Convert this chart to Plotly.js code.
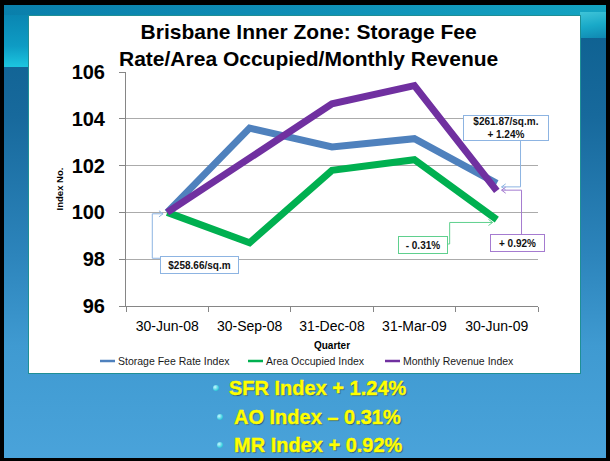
<!DOCTYPE html>
<html><head><meta charset="utf-8">
<script src="https://cdn.plot.ly/plotly-3.0.1.min.js"></script>
<style>
html,body{margin:0;padding:0;background:#000;}
#slide{position:relative;width:610px;height:461px;overflow:hidden;
 background:linear-gradient(180deg,#0c5f8e 0%,#17699c 25%,#2c84bb 55%,#3f9ad1 75%,#4aa3da 100%);
 font-family:"Liberation Sans",Arial,sans-serif;}
#topstrip{position:absolute;left:0;top:0;width:610px;height:16px;background:linear-gradient(90deg,#0a7fab 0%,#0f8fb6 50%,#14a4c2 100%);}
#leftstrip{position:absolute;left:0;top:15px;width:30px;height:52px;background:linear-gradient(180deg,#0a86b2 0%,#0e9cc4 60%,#1cc6e0 100%);}
#rightstrip{position:absolute;left:580px;top:12px;width:30px;height:26px;background:linear-gradient(170deg,#3fc4d8 0%,#19a9c8 50%,#0f86b0 100%);}
#box{position:absolute;left:28px;top:15px;width:553px;height:359px;box-sizing:border-box;background:#fff;border:1px solid #1f8f95;}
#chart{position:absolute;left:0;top:0;width:610px;height:461px;}
#frame{position:absolute;left:0;top:0;width:610px;height:461px;box-sizing:border-box;border:4px solid #000;border-top-width:5px;border-bottom-width:3px;pointer-events:none;}
.bul{position:absolute;height:24px;line-height:24px;font-size:20px;font-weight:bold;color:#ffff00;white-space:nowrap;text-shadow:1px 1px 1px rgba(0,0,0,0.45);-webkit-text-stroke:0.4px #ffff00;}
.dot{position:absolute;width:6px;height:6px;border-radius:50%;background:radial-gradient(circle at 35% 35%,#c8f6ff 0%,#3fd0e0 60%,#1a9cb8 100%);}
</style>
</head><body>
<div id="slide">
 <div id="topstrip"></div>
 <div id="leftstrip"></div>
 <div id="rightstrip"></div>
 <div id="box"></div>
 <div id="chart"></div>
 <div class="dot" style="left:213px;top:385px;"></div>
 <div class="bul" style="left:229px;top:376px;">SFR Index + 1.24%</div>
 <div class="dot" style="left:217px;top:414px;"></div>
 <div class="bul" style="left:234px;top:405px;">AO Index – 0.31%</div>
 <div class="dot" style="left:217px;top:442px;"></div>
 <div class="bul" style="left:234px;top:433px;">MR Index + 0.92%</div>
 <div id="frame"></div>
</div>
<script>
// ---- data ----
var categories = ['30-Jun-08','30-Sep-08','31-Dec-08','31-Mar-09','30-Jun-09'];
var sfrIndex = [100, 103.6, 102.8, 103.15, 101.24];
var aoIndex  = [100, 98.7, 101.8, 102.25, 99.69];
var mrIndex  = [100, 102.3, 104.64, 105.42, 100.92];
var seriesNames = ['Storage Fee Rate Index','Area Occupied Index','Monthly Revenue Index'];
var yTicks = [96, 98, 100, 102, 104, 106];
var calloutTexts = ['$258.66/sq.m', '- 0.31%', '$261.87/sq.m.<br>+ 1.24%', '+ 0.92%'];

var FONT = '"Liberation Sans", Arial, sans-serif';
var colors = ['#4F81BD', '#00B050', '#7030A0'];
var seriesData = [sfrIndex, aoIndex, mrIndex];

var traces = [];
seriesData.forEach(function (vals, i) {
  traces.push({
    x: categories, y: vals, type: 'scatter', mode: 'lines', name: seriesNames[i],
    line: {color: colors[i], width: 7}, showlegend: false, hoverinfo: 'skip'
  });
});

// plot box in pixels (from margins) -> paper coords for legend placement
var PL = 126, PR = 538, PT = 72, PB = 306;
function px2paperX(px) { return (px - PL) / (PR - PL); }
function px2paperY(py) { return (PB - py) / (PB - PT); }

// elbow connectors with open arrowheads (data coordinates: x = category index)
function elbow(pts, dir) {
  var d = 'M' + pts.map(function (p) { return p[0] + ',' + p[1]; }).join(' L');
  var tip = pts[pts.length - 1];
  var dx = 0.05 * dir, dy = 0.13;
  d += ' M' + (tip[0] - dx) + ',' + (tip[1] + dy) + ' L' + tip[0] + ',' + tip[1] +
       ' L' + (tip[0] - dx) + ',' + (tip[1] - dy);
  return d;
}
var cBlue = '#8DB4E2', cGreen = '#5FD08E', cPurple = '#A57BD0';
var shapes = [
  {type: 'path', xref: 'x', yref: 'y', line: {color: cBlue, width: 1},
   path: elbow([[-0.084, 98.04], [-0.181, 98.04], [-0.181, 99.94], [-0.05, 99.94]], 1)},
  {type: 'path', xref: 'x', yref: 'y', line: {color: cGreen, width: 1},
   path: elbow([[3.16, 98.65], [3.428, 98.65], [3.428, 99.57], [3.949, 99.57]], 1)},
  {type: 'path', xref: 'x', yref: 'y', line: {color: cBlue, width: 1},
   path: elbow([[4.288, 103.05], [4.288, 101.09], [4.058, 101.09]], -1)},
  {type: 'path', xref: 'x', yref: 'y', line: {color: cPurple, width: 1},
   path: elbow([[4.30, 99.07], [4.30, 100.95], [4.058, 100.95]], -1)}
];

function box(x, y, txt, col, w, h) {
  return {x: x, y: y, xref: 'x', yref: 'y', text: txt, showarrow: false,
    xanchor: 'center', yanchor: 'middle', align: 'center',
    bgcolor: '#ffffff', bordercolor: col, borderwidth: 1, borderpad: 1,
    width: w, height: h,
    font: {family: FONT, size: 10, color: '#111', weight: 'bold'}};
}
var annotations = [
  box(0.395, 97.76, calloutTexts[0], cBlue, 75, 14),
  box(3.10, 98.60, calloutTexts[1], cGreen, 46, 14),
  box(4.106, 103.60, calloutTexts[2], cBlue, 82, 22),
  box(4.246, 98.68, calloutTexts[3], cPurple, 51, 14)
];

// legend (short line samples like the original)
var legendLineStart = [100, 248, 385];
var legendY = px2paperY(361);
seriesNames.forEach(function (nm, i) {
  shapes.push({type: 'line', xref: 'paper', yref: 'paper',
    x0: px2paperX(legendLineStart[i]), x1: px2paperX(legendLineStart[i] + 15),
    y0: legendY, y1: legendY, line: {color: colors[i], width: 2.5}});
  annotations.push({xref: 'paper', yref: 'paper', x: px2paperX(legendLineStart[i] + 15.5), y: legendY,
    xanchor: 'left', yanchor: 'middle', showarrow: false, text: nm,
    font: {family: FONT, size: 10.5, color: '#1a1a1a'}});
});

var layout = {
  width: 610, height: 461,
  paper_bgcolor: 'rgba(0,0,0,0)', plot_bgcolor: 'rgba(0,0,0,0)',
  margin: {l: PL, r: 610 - PR, t: PT, b: 461 - PB, pad: 0},
  font: {family: FONT, color: '#000'},
  title: {
    text: 'Brisbane Inner Zone: Storage Fee<br>Rate/Area Occupied/Monthly Revenue',
    font: {family: FONT, size: 21, color: '#000', weight: 'bold'},
    x: 0.506, xanchor: 'center', xref: 'container',
    y: 0.915, yanchor: 'top', yref: 'container'
  },
  xaxis: {
    type: 'category', categoryorder: 'array', categoryarray: categories,
    range: [-0.5, 4.5],
    tickson: 'boundaries', ticks: 'outside', ticklen: 5, tickcolor: '#868686',
    showline: true, linecolor: '#868686', linewidth: 1, showgrid: false,
    tickfont: {family: FONT, size: 14, color: '#000'}, ticklabelstandoff: 7,
    title: {text: 'Quarter', font: {family: FONT, size: 10, color: '#000', weight: 'bold'}, standoff: 9},
    automargin: false, fixedrange: true
  },
  yaxis: {
    range: [96, 106], tickvals: yTicks, ticktext: yTicks.map(String),
    ticks: 'outside', ticklen: 6, tickcolor: '#868686',
    showline: true, linecolor: '#868686', linewidth: 1,
    showgrid: true, gridcolor: '#ababab', gridwidth: 1, zeroline: false,
    tickfont: {family: FONT, size: 20, color: '#000', weight: 'bold'}, ticklabelstandoff: 10,
    title: {text: 'Index No.', font: {family: FONT, size: 9.5, color: '#000', weight: 'bold'}, standoff: 6},
    automargin: false, fixedrange: true
  },
  showlegend: false,
  shapes: shapes,
  annotations: annotations
};

Plotly.newPlot('chart', traces, layout, {staticPlot: true, displayModeBar: false});
</script>
</body></html>
